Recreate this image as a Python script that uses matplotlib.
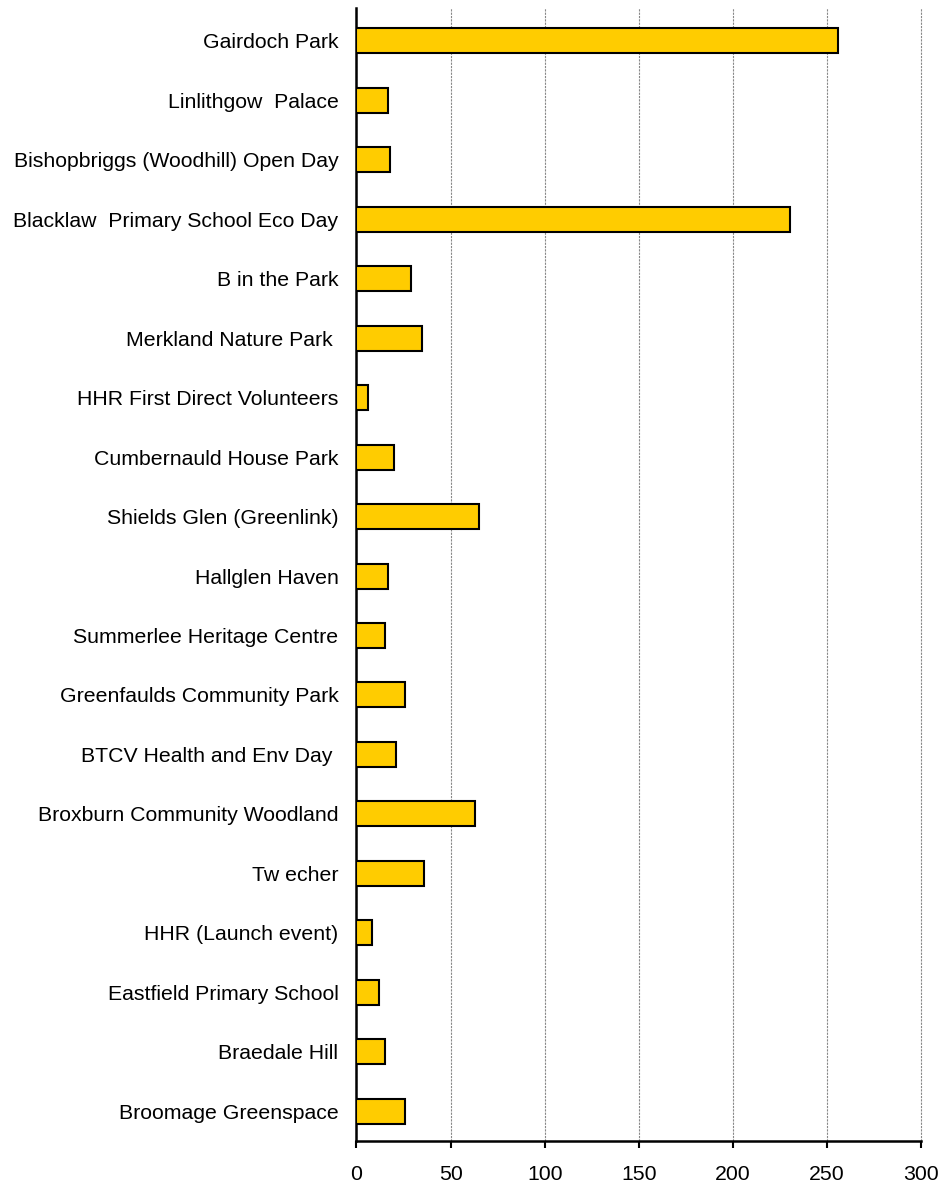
import matplotlib.pyplot as plt

plt.rcParams['font.family'] = ['Liberation Sans', 'DejaVu Sans']

# events, listed top to bottom
events = ['Gairdoch Park', 'Linlithgow  Palace', 'Bishopbriggs (Woodhill) Open Day',
          'Blacklaw  Primary School Eco Day', 'B in the Park', 'Merkland Nature Park ',
          'HHR First Direct Volunteers', 'Cumbernauld House Park', 'Shields Glen (Greenlink)',
          'Hallglen Haven', 'Summerlee Heritage Centre', 'Greenfaulds Community Park',
          'BTCV Health and Env Day ', 'Broxburn Community Woodland', 'Tw echer',
          'HHR (Launch event)', 'Eastfield Primary School', 'Braedale Hill',
          'Broomage Greenspace']
counts = [256, 17, 18, 230, 29, 35, 6, 20, 65, 17, 15, 26, 21, 63, 36, 8, 12, 15, 26]
xticks = [0, 50, 100, 150, 200, 250, 300]

fig = plt.figure(figsize=(9.43, 11.84), dpi=100)
ax = fig.add_axes([0.378, 0.0363, 0.599, 0.9569])

pos = list(range(len(events)))
ax.barh(pos, counts, height=0.42, color='#FFCC00', edgecolor='black', linewidth=1.5, zorder=3)

ax.set_xlim(0, 300)
ax.set_ylim(len(events) - 0.5, -0.55)
ax.set_yticks(pos)
ax.set_yticklabels(events, fontsize=15.3)
ax.set_xticks(xticks)
ax.set_xticklabels([str(t) for t in xticks], fontsize=15.3)
ax.tick_params(axis='y', length=0, pad=13)
ax.tick_params(axis='x', length=5, width=1.5, pad=12)

ax.grid(axis='x', color='#888888', linestyle=(0, (2, 1)), linewidth=0.8, zorder=0)
for gl in ax.get_xgridlines():
    gl.set_clip_on(False)
ax.spines['top'].set_visible(False)
ax.spines['right'].set_visible(False)
ax.spines['left'].set_linewidth(1.8)
ax.spines['bottom'].set_linewidth(1.8)

fig.savefig('out.png', dpi=100)
